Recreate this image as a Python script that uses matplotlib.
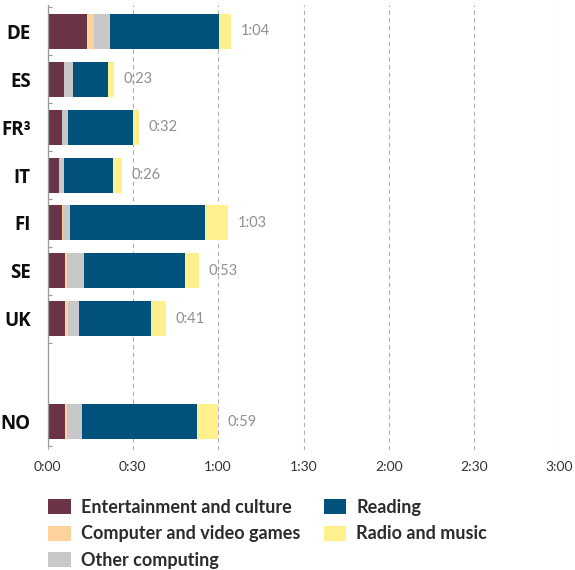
import numpy as np
import matplotlib.pyplot as plt
from matplotlib.ticker import MultipleLocator, FuncFormatter

plt.rcParams['font.family'] = ['Lato', 'DejaVu Sans']

countries = ["DE", "ES", "FR³", "IT", "FI", "SE", "UK", "NO"]
# minutes per day
entertainment = [13.8, 5.7, 5.0, 4.0, 5.0, 6.1, 6.1, 6.1]
games = [2.5, 0.0, 0.0, 0.0, 0.6, 0.7, 1.0, 0.7]
other_computing = [5.6, 3.2, 2.1, 1.8, 2.2, 6.0, 3.9, 5.3]
reading = [38.3, 12.3, 22.8, 17.2, 47.4, 35.5, 25.3, 40.4]
radio = [4.2, 2.1, 2.1, 3.2, 8.1, 4.9, 5.3, 7.3]
totals = [64, 23, 32, 26, 63, 53, 41, 59]

series = [
    ("Entertainment and culture", entertainment, "#6b3348"),
    ("Computer and video games", games, "#fdd39b"),
    ("Other computing", other_computing, "#c8c8ca"),
    ("Reading", reading, "#00527d"),
    ("Radio and music", radio, "#fff08e"),
]

ypos = np.array([0, 1, 2, 3, 4, 5, 6, 8.15])

fig = plt.figure(figsize=(5.75, 5.70), dpi=100)
ax = fig.add_axes([47.5 / 575, 1 - 450 / 570, 512 / 575, 445 / 570])

left = np.zeros(len(countries))
handles = []
for name, vals, col in series:
    vals = np.array(vals)
    h = ax.barh(ypos, vals, left=left, height=0.73, color=col, label=name, linewidth=0)
    handles.append(h)
    left += vals

for y, end, t in zip(ypos, left, totals):
    ax.text(end + 3.5, y, "%d:%02d" % (t // 60, t % 60), va="center", ha="left",
            fontsize=10.5, color="#8f8f8f")

ax.set_xlim(0, 180)
ax.set_ylim(8.74, -0.55)
ax.xaxis.set_major_locator(MultipleLocator(30))
ax.xaxis.set_major_formatter(FuncFormatter(lambda v, p: "%d:%02d" % (int(v) // 60, int(v) % 60)))
ax.tick_params(axis="x", length=0, pad=8, labelsize=10, labelcolor="#333333")
ax.grid(axis="x", linestyle=(0, (4, 3)), color="#b0b0b0", linewidth=0.8)
ax.set_axisbelow(True)

ax.set_yticks(ypos)
ax.set_yticklabels(countries, fontsize=13.5, fontweight="bold", color="#0d0d0d",
                   family=["Open Sans", "DejaVu Sans"])
ax.tick_params(axis="y", which="major", length=0, pad=12)
ax.set_yticks([-0.5, 0.5, 1.5, 2.5, 3.5, 4.5, 5.5, 6.5, 8.65], minor=True)
ax.tick_params(axis="y", which="minor", direction="in", length=3, color="#999999", width=0.8)

for s in ["top", "right", "bottom"]:
    ax.spines[s].set_visible(False)
ax.spines["left"].set_color("#999999")
ax.spines["left"].set_linewidth(0.9)
ax.spines["left"].set_bounds(-0.55, 8.65)

leg = fig.legend(handles=handles, loc="upper left", bbox_to_anchor=(48 / 575, 1 - 499 / 570),
                 ncol=2, frameon=False, handlelength=1.27, handleheight=0.89,
                 handletextpad=0.54, columnspacing=1.3, labelspacing=0.52, borderpad=0,
                 borderaxespad=0,
                 prop={"family": ["Lato", "DejaVu Sans"], "weight": "bold", "size": 13})
for t in leg.get_texts():
    t.set_color("#2b2b2b")

fig.savefig("out.png", dpi=100)
